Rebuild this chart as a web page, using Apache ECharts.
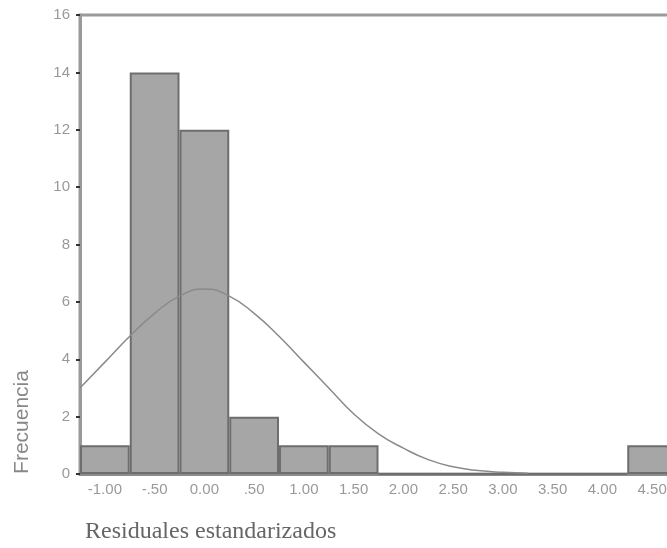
<!DOCTYPE html>
<html><head><meta charset="utf-8">
<script src="https://cdn.jsdelivr.net/npm/echarts@6/dist/echarts.min.js"></script>
<style>html,body{margin:0;padding:0;background:#fff}#c{width:667px;height:548px}</style>
</head><body><div id="c"></div>
<script>
const categories = ['-1.00','-.50','0.00','.50','1.00','1.50','2.00','2.50','3.00','3.50','4.00','4.50'];
const counts = [1,14,12,2,1,1,0,0,0,0,0,1];
const curveX = [-1.25,-1,-0.75,-0.5,-0.25,0,0.25,0.5,0.75,1,1.25,1.5,1.75,2,2.25,2.5,2.75,3,3.25];
const curveY = [3.0,3.9,4.8,5.6,6.2,6.45,6.2,5.6,4.8,3.9,3.0,2.1,1.4,0.9,0.5,0.25,0.12,0.06,0.03];
const yTicks = [0,2,4,6,8,10,12,14,16];

const chart = echarts.init(document.getElementById('c'));
chart.setOption({
  animation: false,
  grid: {left: 80, top: 15, width: 597, bottom: 74, outerBoundsMode: 'none', containLabel: false,
    show: true, borderColor: '#9a9a9a', borderWidth: 3},
  xAxis: [{
    type: 'category', data: categories, boundaryGap: true,
    axisLine: {lineStyle: {color: '#8c8c8c', width: 3}},
    axisTick: {alignWithLabel: true, length: 3, lineStyle: {color: '#333', width: 3}},
    axisLabel: {color: '#999', fontSize: 15, fontFamily: 'Liberation Sans', margin: 8}
  }, {
    type: 'value', min: -1.25, max: 4.75, show: false
  }],
  yAxis: {
    type: 'value', min: 0, max: 16, interval: 2,
    splitLine: {show: false},
    axisLine: {show: true, onZero: false, lineStyle: {color: '#9a9a9a', width: 3}},
    axisTick: {show: true, length: 4, lineStyle: {color: '#333', width: 2}},
    axisLabel: {color: '#999', fontSize: 15, fontFamily: 'Liberation Sans', margin: 10,
      formatter: v => yTicks.includes(v) ? String(v) : ''}
  },
  series: [{
    type: 'bar', data: counts, barCategoryGap: '0%',
    itemStyle: {color: '#a6a6a6', borderColor: '#6e6e6e', borderWidth: 2}
  }, {
    type: 'line', xAxisIndex: 1, data: curveX.map((x, i) => [x, curveY[i]]),
    smooth: true, showSymbol: false, symbol: 'none',
    lineStyle: {color: '#8a8a8a', width: 1.5}
  }],
  graphic: [{
    type: 'text', x: 22, y: 422, rotation: Math.PI / 2,
    style: {text: 'Frecuencia', fill: '#888', font: '21px "Liberation Sans"', align: 'center', verticalAlign: 'middle'}
  }, {
    type: 'text', x: 85, y: 532,
    style: {text: 'Residuales estandarizados', fill: '#666', font: '24px "Liberation Serif"', align: 'left', verticalAlign: 'middle'}
  }]
});
</script></body></html>
